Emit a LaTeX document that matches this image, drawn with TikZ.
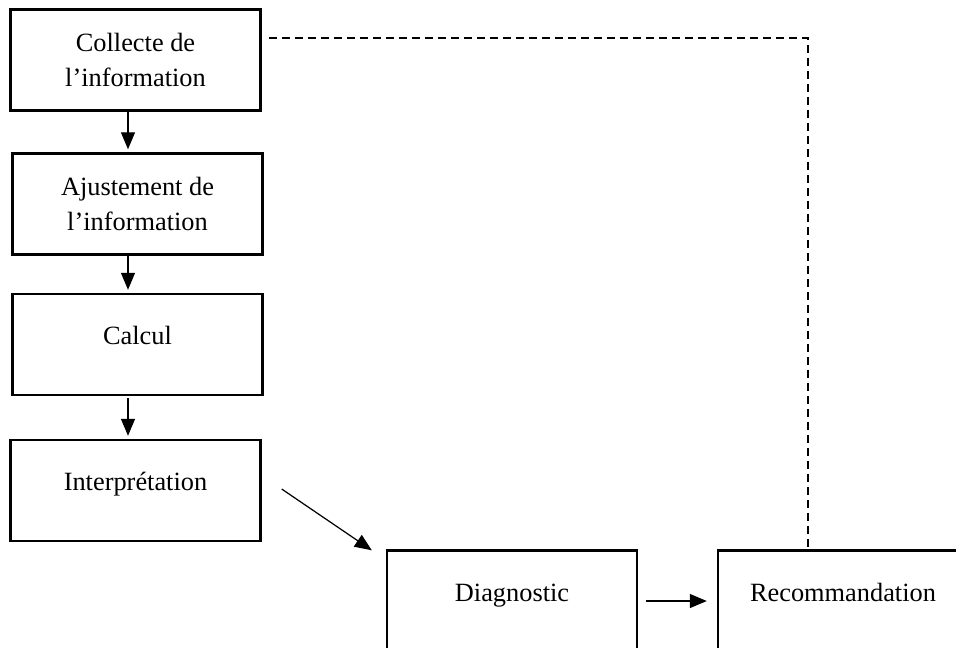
\documentclass[tikz,border=0pt]{standalone}
\usepackage{fontspec}
\setmainfont{Liberation Serif}
\usetikzlibrary{arrows.meta}
\begin{document}
\begin{tikzpicture}[x=0.02cm,y=-0.02cm,
  every node/.style={font=\fontsize{15}{20}\selectfont},
  stage/.style={draw,line width=1.4pt,minimum width=5cm,minimum height=2.02cm,inner sep=0pt,align=center},
  single/.style={stage,text height=0.75em,text depth=0.75em},
  flow/.style={line width=0.7pt,-{Triangle[length=0.34cm,width=0.28cm]}}]
\useasboundingbox (0,0) rectangle (956,647);
\clip (0,0) rectangle (956,647);
\node[stage] (collecte) at (135.5,60) {Collecte de\\l’information};
\node[stage] (ajustement) at (137.5,204) {Ajustement de\\l’information};
\node[single] (calcul) at (137.5,344.5) {Calcul};
\node[single] (interp) at (135.5,490.5) {Interprétation};
\node[single] (diag) at (512,601) {Diagnostic};
\node[single] (recom) at (843,601) {Recommandation};
\coordinate (ax) at (128,0);
\draw[flow] (collecte.south -| ax) -- ([yshift=0.06cm]ajustement.north -| ax);
\draw[flow] (ajustement.south -| ax) -- ([yshift=0.06cm]calcul.north -| ax);
\draw[flow] ([yshift=-0.04cm]calcul.south -| ax) -- ([yshift=0.06cm]interp.north -| ax);
\draw[flow] ([xshift=0.4cm,yshift=0.03cm]interp.east) -- ([xshift=-0.28cm,yshift=-0.02cm]diag.north west);
\draw[flow] ([xshift=0.16cm]diag.east) -- ([xshift=-0.2cm]recom.west);
\coordinate (dstart) at (269,38);
\coordinate (dcorner) at (808,38);
\draw[line width=0.9pt,dash pattern=on 0.16cm off 0.1cm] (dstart) -- (dcorner) -- (dcorner |- recom.north);
\end{tikzpicture}
\end{document}
